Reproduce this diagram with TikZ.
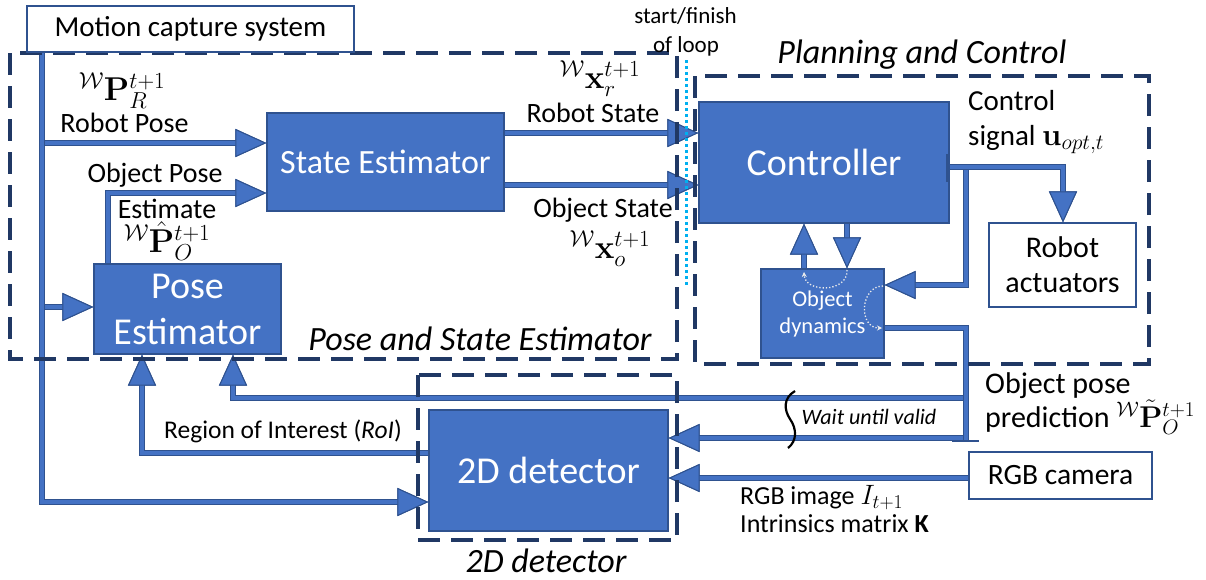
\RequirePackage{fix-cm}
\documentclass[tikz,border=0pt]{standalone}
\usepackage[no-math]{fontspec}
\setmainfont{Carlito}
\usetikzlibrary{arrows.meta}
\newcommand{\fsz}[2]{\fontsize{#1}{#2}\selectfont}
\definecolor{boxblue}{HTML}{4472C4}
\definecolor{boxedge}{HTML}{2F528F}
\definecolor{navy}{HTML}{203864}
\definecolor{loopcyan}{HTML}{00B0F0}
\tikzset{
  block/.style={draw=boxedge, line width=1.2pt, fill=boxblue, text=white, inner sep=0pt, align=center},
  plainbox/.style={draw=boxedge, line width=1.2pt, fill=white, inner sep=0pt, align=center},
  group/.style={draw=navy, line width=3.2pt, dash pattern=on 22pt off 11pt},
  bus/.style={line width=4.4pt, draw=boxblue, preaction={draw=boxedge, line width=6.6pt}},
  flow/.style={bus, -{Triangle[length=31pt,width=28pt,fill=boxblue,color=boxedge,line width=1pt]}},
  loopdot/.style={draw=white!85!gray, line width=1.3pt, dotted, -{Stealth[length=5pt,width=5pt]}},
  lbl/.style={inner sep=0pt, anchor=base, font=\fsz{28}{32}},
  mlbl/.style={inner sep=0pt, font=\fsz{33}{38}},
  grouptitle/.style={inner sep=0pt, anchor=base, font=\fsz{34}{40}\itshape},
}
\begin{document}
\begin{tikzpicture}[x=1pt,y=-1pt]
\useasboundingbox (0,0) rectangle (1206,579);

% blocks
\node[block, minimum width=237pt, minimum height=98pt, font=\fsz{34}{40}] (se) at (385.5,162) {State Estimator};
\node[block, minimum width=187pt, minimum height=90pt, font=\fsz{38}{46}] (pe) at (187.5,309) {Pose\\Estimator};
\node[block, minimum width=250pt, minimum height=121pt, font=\fsz{38}{46}] (ctrl) at (824,162.5) {Controller};
\node[block, minimum width=123pt, minimum height=89pt, font=\fsz{22.5}{27}] (od) at (822.5,313.5) {Object\\dynamics};
\node[block, minimum width=239pt, minimum height=121pt, font=\fsz{38}{46}] (det) at (548.5,470.5) {2D detector};
\node[plainbox, minimum width=147pt, minimum height=84pt, font=\fsz{30}{35}] (act) at (1062.5,265) {Robot\\actuators};
\node[plainbox, minimum width=183pt, minimum height=47pt, font=\fsz{29.5}{34}] (cam) at (1060.5,475.5) {RGB camera};

% junction points of the connectors
\coordinate (bTop) at (42,53);
\coordinate (bRobot) at (45,143);
\coordinate (bPose) at (45,307);
\coordinate (bBot) at (42,502);
\coordinate (oe) at (108,193);
\coordinate (rs) at (0,133);
\coordinate (os) at (0,185);
\coordinate (cu) at (1063,167);
\coordinate (cb) at (966,170);
\coordinate (cbl) at (966,285);
\coordinate (ux) at (804,0);
\coordinate (dx) at (847,0);
\coordinate (oo) at (966,328);
\coordinate (ob) at (966,441);
\coordinate (f1) at (963,398);
\coordinate (f1c) at (233,398);
\coordinate (f2) at (963,438);
\coordinate (r1) at (142,453);
\coordinate (cm) at (0,478);

% connectors
\draw[flow] (bTop) -- (bBot) -- (bBot -| det.west);
\draw[flow] (bRobot) -- (bRobot -| se.west);
\draw[flow] (bPose) -- (bPose -| pe.west);
\draw[flow] (pe.north -| oe) -- (oe) -- (oe -| se.west);
\draw[flow] (se.east |- rs) -- (ctrl.west |- rs);
\draw[flow] (se.east |- os) -- (ctrl.west |- os);
\draw[flow] (ctrl.east |- cu) -- (cu) -- (act.north -| cu);
\draw[flow] (cb) -- (cbl) -- (cbl -| od.east);
\draw[flow] (od.north -| ux) -- (ctrl.south -| ux);
\draw[flow] (ctrl.south -| dx) -- (od.north -| dx);
\draw[bus] (od.east |- oo) -- (oo) -- (ob);
\draw[flow] (f1) -- (f1c) -- (pe.south -| f1c);
\draw[flow] (f2) -- (det.east |- f2);
\draw[flow] (det.west |- r1) -- (r1) -- (pe.south -| r1);
\draw[flow] (cam.west |- cm) -- (det.east |- cm);
% line end marks
\draw[boxedge, line width=1.5pt] (947,154) -- (947,182);
\draw[boxedge, line width=1.5pt] (952,441) -- (979,441);

% break mark on the prediction lines
\draw[line width=2.2pt] (795,391) .. controls (783,398) and (784,410) .. (790,419)
  .. controls (797,429) and (797,441) .. (788,448);

% dashed groups
\draw[group] (10,53) rectangle (677,359);
\draw[group] (695,76) rectangle (1149,364);
\draw[group] (418,375) rectangle (677,540);
% start/finish of the loop
\draw[loopcyan, line width=3pt, dash pattern=on 3pt off 3pt] (686,60) -- (686,285);

% motion capture source
\node[plainbox, minimum width=327pt, minimum height=46pt, font=\fsz{29}{34}] (mocap) at (190.5,29) {Motion capture system};

% dotted internal flows of the object dynamics
\draw[loopdot] (847,270) .. controls (848,293) and (805,293) .. (804,272);
\draw[loopdot] (883,286) .. controls (860,286) and (858,328) .. (882,328);

% labels
\node[mlbl] (lPR) at (122,91) {${}^{\mathcal{W}}\mathbf{P}_R^{t+1}$};
\node[lbl] (lRP) at (124.5,132) {Robot Pose};
\node[lbl] (lOP) at (155,182) {Object Pose};
\node[lbl] (lEs) at (167,218) {Estimate};
\node[mlbl] (lPO) at (167,241) {${}^{\mathcal{W}}\hat{\mathbf{P}}_O^{t+1}$};
\node[mlbl] (lxr) at (600,79) {${}^{\mathcal{W}}\mathbf{x}_r^{t+1}$};
\node[lbl] (lRS) at (593,122) {Robot State};
\node[lbl] (lOS) at (603,217) {Object State};
\node[mlbl] (lxo) at (610,249) {${}^{\mathcal{W}}\mathbf{x}_o^{t+1}$};
\node[lbl, font=\fsz{23}{27}] (lsf) at (685.5,23) {start/finish};
\node[lbl, font=\fsz{23}{27}] (lol) at (686,52) {of loop};
\node[grouptitle] (tpc) at (922,63) {Planning and Control};
\node[grouptitle] (tpse) at (480,350) {Pose and State Estimator};
\node[grouptitle] (tdet) at (546,572) {2D detector};
\node[lbl, font=\fsz{25.5}{30}] (lroi) at (283,438) {Region of Interest (\textit{RoI})};
\node[lbl, font=\fsz{22}{26}\itshape] (lwait) at (869,424) {Wait until valid};
\node[lbl, anchor=base west, font=\fsz{29}{34}] (lc1) at (968,110) {Control};
\node[lbl, anchor=base west, font=\fsz{29}{34}] (lc2) at (968,145) {signal {\fsz{31}{36}$\mathbf{u}_{opt,t}$}};
\node[lbl, anchor=base west, font=\fsz{30}{35}] (lp1) at (985,393) {Object pose};
\node[lbl, anchor=base west, font=\fsz{30}{35}] (lp2) at (985,427) {prediction {\fsz{30}{35}${}^{\mathcal{W}}\tilde{\mathbf{P}}_O^{t+1}$}};
\node[lbl, anchor=base west, font=\fsz{26}{30}] (li1) at (740,504) {RGB image {\fsz{28}{32}$I_{t+1}$}};
\node[lbl, anchor=base west, font=\fsz{26}{30}] (li2) at (740,532) {Intrinsics matrix \textbf{K}};
\end{tikzpicture}
\end{document}
